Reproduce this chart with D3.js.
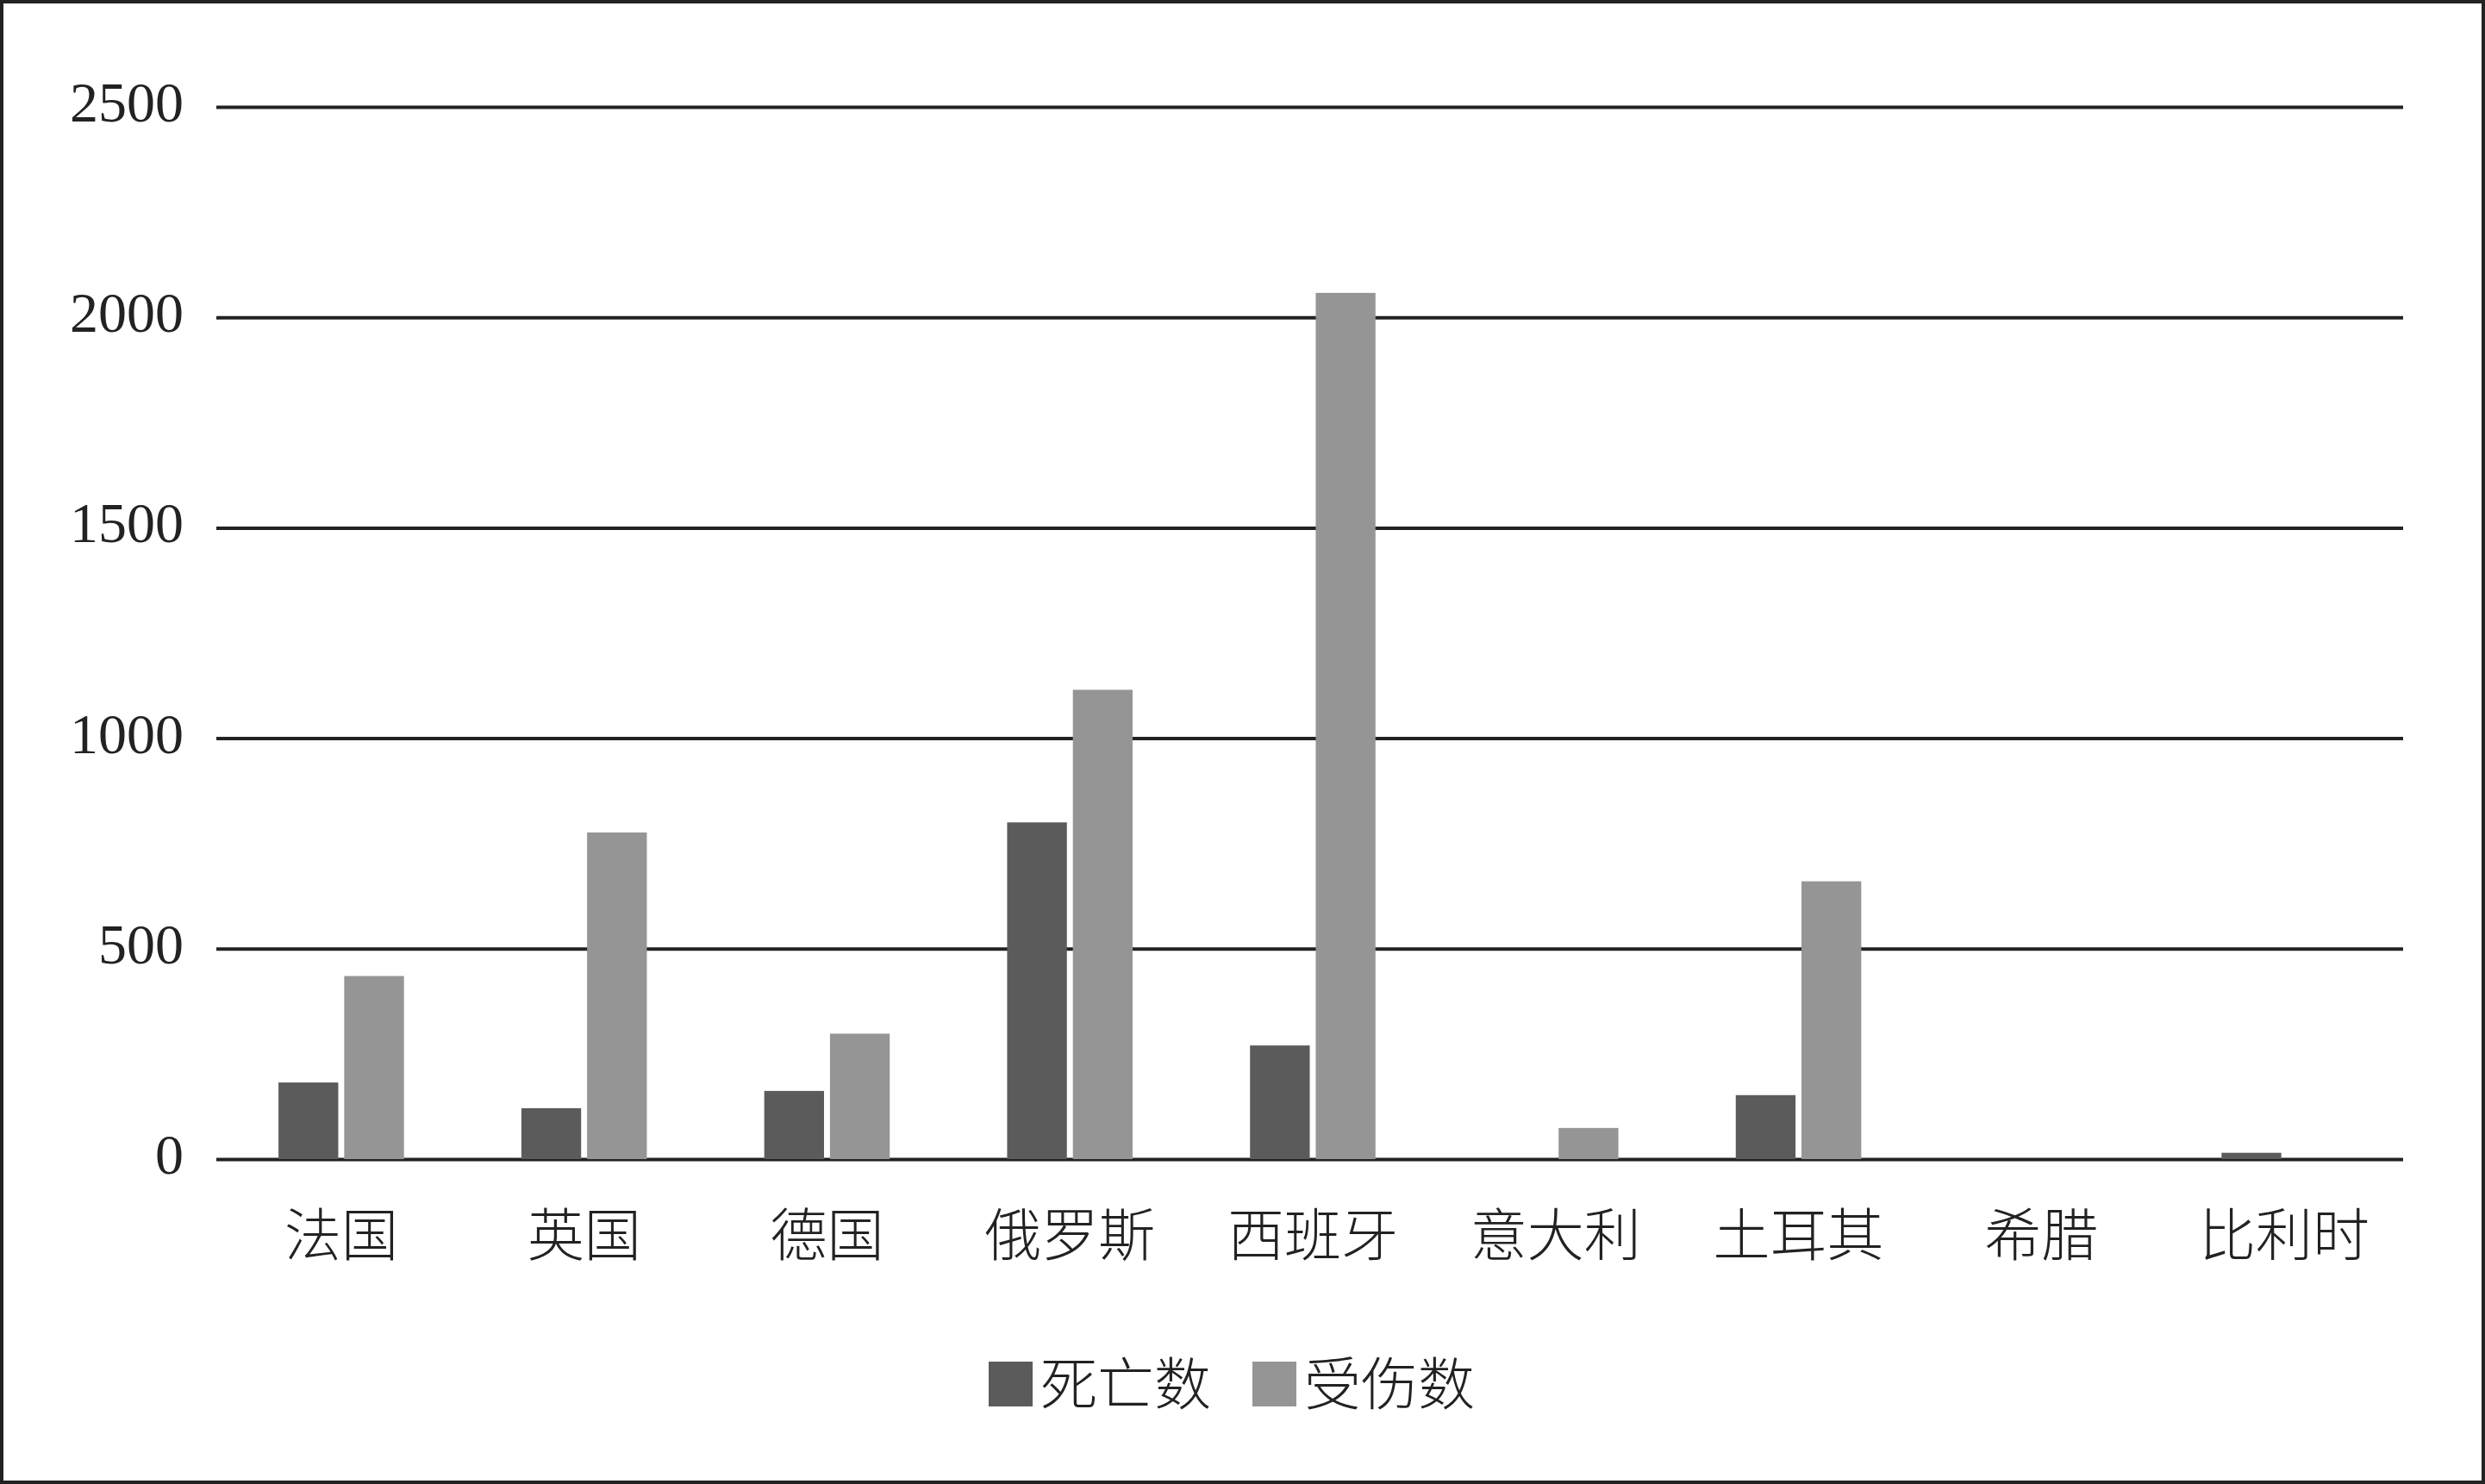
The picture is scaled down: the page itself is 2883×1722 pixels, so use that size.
<!DOCTYPE html>
<html>
<head>
<meta charset="utf-8">
<script src="https://cdn.jsdelivr.net/npm/d3@7"></script>
<style>
  html, body { margin: 0; padding: 0; background: #ffffff; }
  svg { display: block; }
</style>
</head>
<body>
<script>
// ---- data ----
const categories = ["法国", "英国", "德国", "俄罗斯", "西班牙", "意大利", "土耳其", "希腊", "比利时"];
const seriesNames = ["死亡数", "受伤数"];
const deaths  = [182, 121, 162, 800, 270, 0, 152, 0, 15];
const injured = [435, 776, 298, 1115, 2058, 74, 660, 0, 0];
const yTicks = [0, 500, 1000, 1500, 2000, 2500];

// ---- layout ----
const W = 2883, H = 1722;
const colors = ["#5b5b5b", "#959595"];
const inkColor = "#222222";

const svg = d3.select("body").append("svg")
  .attr("width", W).attr("height", H);

svg.append("rect").attr("x", 0).attr("y", 0).attr("width", W).attr("height", H)
  .attr("fill", "#ffffff");

// outer frame
svg.append("rect")
  .attr("x", 2).attr("y", 2).attr("width", W - 4).attr("height", H - 4)
  .attr("fill", "none").attr("stroke", inkColor).attr("stroke-width", 4);

const gridLeft = 251, gridRight = 2788;
const x = d3.scaleBand().domain(categories).range([255, 2791]).paddingInner(0).paddingOuter(0);
const y = d3.scaleLinear().domain([0, 2500]).range([1345, 124]);

// gridlines + y labels
const yAxis = d3.axisLeft(y).tickValues(yTicks).tickFormat(d3.format("d"))
  .tickSize(-(gridRight - gridLeft)).tickPadding(38);
const gy = svg.append("g").attr("transform", `translate(${gridLeft},0)`).call(yAxis);
gy.select(".domain").remove();
gy.selectAll(".tick line").attr("stroke", inkColor).attr("stroke-width", 4);
gy.selectAll(".tick text")
  .attr("fill", inkColor)
  .attr("font-family", "'Liberation Serif', 'Times New Roman', serif")
  .attr("font-size", 66)
  .attr("dy", "0.25em");

// bars
const barW = x.bandwidth() * 0.246;
const innerGap = barW * 0.1;
const groupW = barW * 2 + innerGap;
const series = [deaths, injured];

series.forEach((vals, si) => {
  svg.append("g").selectAll("rect")
    .data(categories.map((c, i) => ({ c, v: vals[i] })))
    .join("rect")
    .filter(d => d.v > 0)
    .attr("x", d => x(d.c) + (x.bandwidth() - groupW) / 2 + si * (barW + innerGap))
    .attr("y", d => y(d.v))
    .attr("width", barW)
    .attr("height", d => y(0) - y(d.v))
    .attr("fill", colors[si]);
});

// x labels
const xAxis = d3.axisBottom(x).tickSize(0).tickPadding(0);
const gx = svg.append("g").attr("transform", `translate(0,${y(0)})`).call(xAxis);
gx.select(".domain").remove();
gx.selectAll(".tick text")
  .attr("fill", inkColor)
  .attr("font-family", "'Noto Sans CJK SC', sans-serif")
  .attr("font-weight", 300)
  .attr("font-size", 66)
  .attr("y", 0)
  .attr("dy", "1.70em");

// legend
const legendItems = [
  { name: seriesNames[0], color: colors[0], x: 1147 },
  { name: seriesNames[1], color: colors[1], x: 1453 }
];
const lg = svg.append("g");
legendItems.forEach(it => {
  lg.append("rect")
    .attr("x", it.x).attr("y", 1580).attr("width", 51).attr("height", 52)
    .attr("fill", it.color);
  lg.append("text")
    .attr("x", it.x + 60).attr("y", 1606)
    .attr("dy", "0.36em")
    .attr("fill", inkColor)
    .attr("font-family", "'Noto Sans CJK SC', sans-serif")
    .attr("font-weight", 300)
    .attr("font-size", 66)
    .text(it.name);
});
</script>
</body>
</html>
